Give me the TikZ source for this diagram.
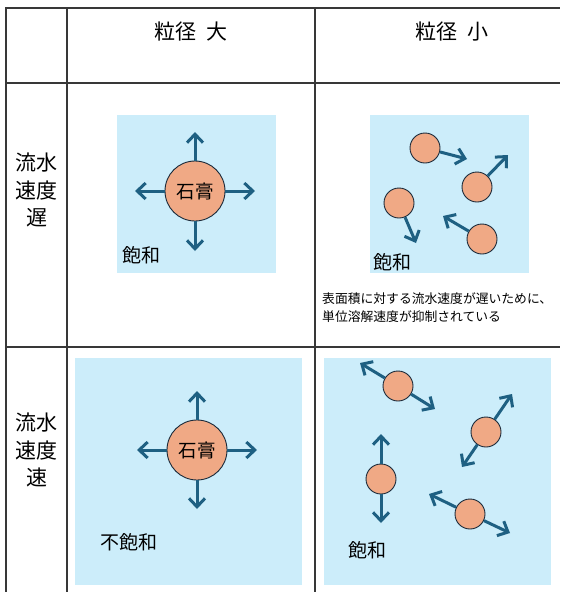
\documentclass[tikz,border=0pt]{standalone}
\usepackage{fontspec}
\setmainfont{Noto Sans CJK JP}
\usetikzlibrary{arrows.meta}
\definecolor{gridc}{HTML}{383838}
\definecolor{water}{HTML}{CCEDFA}
\definecolor{grain}{HTML}{F0A985}
\definecolor{arr}{HTML}{1E6082}
\definecolor{edgec}{HTML}{1A2A3A}
\begin{document}
\begin{tikzpicture}[x=1pt,y=-1pt,
  gridline/.style={draw=gridc,line width=2.8pt},
  waterbox/.style={fill=water},
  bigg/.style={circle,fill=grain,draw=edgec,line width=0.9pt,minimum size=60pt,inner sep=0pt,font=\fontsize{18.5}{18.5}\selectfont},
  smallg/.style={circle,fill=grain,draw=edgec,line width=0.9pt,minimum size=30pt,inner sep=0pt},
  flow/.style={draw=arr,line width=3pt,-{Straight Barb[length=8.5pt,width=16pt,line width=3pt]}},
  head/.style={inner sep=0pt,font=\fontsize{21}{21}\selectfont},
  rowlab/.style={inner sep=0pt,align=center,font=\fontsize{21}{27.5}\selectfont},
  state/.style={inner sep=0pt,font=\fontsize{19}{19}\selectfont},
  note/.style={inner sep=0pt,align=left,font=\fontsize{12.8}{18}\selectfont}]
\useasboundingbox (0,0) rectangle (560,592);
\fill[white] (0,0) rectangle (560,592);

% water boxes
\fill[waterbox] (117,115) rectangle (276,273);
\fill[waterbox] (370,115) rectangle (529,273);
\fill[waterbox] (75,358) rectangle (302,585);
\fill[waterbox] (324,358) rectangle (551,585);

% grid
\draw[gridline] (6,592) -- (6,8) -- (560,8);
\draw[gridline] (67,8) -- (67,592);
\draw[gridline] (315,8) -- (315,592);
\draw[gridline] (6,83) -- (560,83);
\draw[gridline] (6,347) -- (560,347);

% headers
\node[head] (h1) at (191,32) {粒径\hspace{0.5em}大};
\node[head] (h2) at (452,32) {粒径\hspace{0.5em}小};
\node[rowlab] (r1) at (37,190) {流水\\速度\\遅};
\node[rowlab] (r2) at (37,450) {流水\\速度\\速};

% cell: slow, large
\node[bigg] (g1) at (195,191) {石膏};
\coordinate (g1n) at (195,132);
\coordinate (g1s) at (195,251);
\coordinate (g1w) at (135,191);
\coordinate (g1e) at (255,191);
\draw[flow] (g1.north) -- (g1n);
\draw[flow] (g1.south) -- (g1s);
\draw[flow] (g1.west) -- (g1w);
\draw[flow] (g1.east) -- (g1e);
\node[state] (s1) at (141,255) {飽和};

% cell: slow, small
\node[smallg] (p1) at (425,148) {};
\node[smallg] (p2) at (477,187) {};
\node[smallg] (p3) at (399,203) {};
\node[smallg] (p4) at (482,239) {};
\coordinate (p1t) at (467,159);
\coordinate (p2t) at (508,155);
\coordinate (p3t) at (416,243);
\coordinate (p4t) at (443,216);
\draw[flow] (p1) -- (p1t);
\draw[flow] (p2) -- (p2t);
\draw[flow] (p3) -- (p3t);
\draw[flow] (p4) -- (p4t);
\node[state] (s2) at (392,262) {飽和};
\node[note,anchor=north west] (n1) at (322,292) {表面積に対する流水速度が遅いために、\\単位溶解速度が抑制されている};

% cell: fast, large
\node[bigg] (g2) at (197,450) {石膏};
\coordinate (g2n) at (197,391);
\coordinate (g2s) at (197,509);
\coordinate (g2w) at (137,450);
\coordinate (g2e) at (257,450);
\draw[flow] (g2.north) -- (g2n);
\draw[flow] (g2.south) -- (g2s);
\draw[flow] (g2.west) -- (g2w);
\draw[flow] (g2.east) -- (g2e);
\node[state] (s3) at (129,542) {不飽和};

% cell: fast, small
\node[smallg] (q1) at (398,386) {};
\node[smallg] (q2) at (486,432) {};
\node[smallg] (q3) at (381,479) {};
\node[smallg] (q4) at (470,514) {};
\coordinate (q1a) at (360,363);
\coordinate (q1b) at (435,409);
\coordinate (q2a) at (512,394);
\coordinate (q2b) at (462,467);
\coordinate (q3a) at (381,434);
\coordinate (q3b) at (381,523);
\coordinate (q4a) at (429,494);
\coordinate (q4b) at (510,533);
\draw[flow] (q1) -- (q1a);
\draw[flow] (q1) -- (q1b);
\draw[flow] (q2) -- (q2a);
\draw[flow] (q2) -- (q2b);
\draw[flow] (q3) -- (q3a);
\draw[flow] (q3) -- (q3b);
\draw[flow] (q4) -- (q4a);
\draw[flow] (q4) -- (q4b);
\node[state] (s4) at (367,550) {飽和};
\end{tikzpicture}
\end{document}
